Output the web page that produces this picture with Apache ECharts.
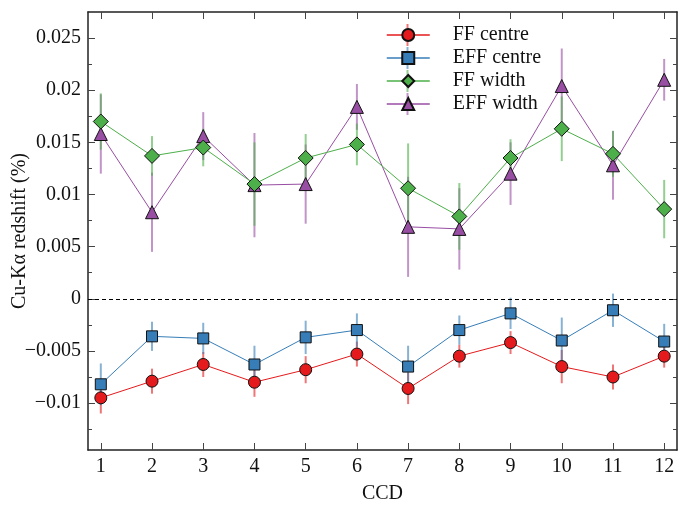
<!DOCTYPE html>
<html><head><meta charset="utf-8">
<script src="https://cdn.jsdelivr.net/npm/echarts@6/dist/echarts.min.js"></script>
<style>html,body{margin:0;padding:0;background:#fff}#c{width:680px;height:506px}</style>
</head><body><div id="c"></div>
<script>
// ---- data ----
const ccd = [1,2,3,4,5,6,7,8,9,10,11,12];
const ffCentre     = [-0.0095,-0.0079,-0.0063,-0.0080,-0.0068,-0.0053,-0.0086,-0.0055,-0.0042,-0.0065,-0.0075,-0.0055];
const ffCentreErr  = [0.0015,0.0012,0.0012,0.0014,0.0013,0.0012,0.0015,0.0011,0.0011,0.0016,0.0012,0.0011];
const effCentre    = [-0.0082,-0.0036,-0.0038,-0.0063,-0.0037,-0.0030,-0.0065,-0.0030,-0.0014,-0.0040,-0.0011,-0.0041];
const effCentreErr = [0.0020,0.0014,0.0015,0.0018,0.0016,0.0016,0.0020,0.0014,0.0015,0.0022,0.0016,0.0017];
const ffWidth      = [0.0170,0.0137,0.0145,0.0110,0.0135,0.0148,0.0106,0.0079,0.0135,0.0163,0.0139,0.0086];
const ffWidthErr   = [0.0027,0.0019,0.0018,0.0040,0.0023,0.0020,0.0043,0.0032,0.0018,0.0031,0.0022,0.0028];
const effWidth     = [0.0158,0.0083,0.0156,0.0109,0.0110,0.0184,0.0069,0.0067,0.0120,0.0204,0.0128,0.0210];
const effWidthErr  = [0.0038,0.0038,0.0023,0.0050,0.0038,0.0022,0.0048,0.0039,0.0030,0.0036,0.0033,0.0020];
const xTicks = [1,2,3,4,5,6,7,8,9,10,11,12];
const yTicks = [-0.01,-0.005,0,0.005,0.01,0.015,0.02,0.025];
const yMinorTicks = [-0.0125,-0.0075,-0.0025,0.0025,0.0075,0.0125,0.0175,0.0225];
const seriesNames = ['FF centre','EFF centre','FF width','EFF width'];

// ---- style ----
const FONT = 'Liberation Serif';
const colors = ['#e41a1c','#377eb8','#4daf4a','#984ea3'];
const symbols = ['circle','rect','diamond','triangle'];
const symSizes = [12,11,15,13];
const AX = '#222';
const FS = 20;

const fmt = v => v === 0 ? '0' : (v < 0 ? '\u2212' : '') + Math.abs(v);

function xAxisDef(pos, labels){
  return {type:'value', min:0.75, max:12.25, position:pos,
    axisLine:{show:true, onZero:false, lineStyle:{color:AX, width:1.5}},
    axisTick:{show:true, inside:true, length:7, customValues:xTicks, lineStyle:{color:'#444'}},
    axisLabel:{show:labels, customValues:xTicks, fontFamily:FONT, fontSize:FS, color:'#111', margin:7},
    splitLine:{show:false},
    name: labels ? 'CCD' : '', nameLocation:'middle', nameGap:34, nameMoveOverlap:false,
    nameTextStyle:{fontFamily:FONT, fontSize:FS, color:'#111'}};
}
function yAxisDef(pos, ticks, len, labels, line){
  return {type:'value', min:-0.0145, max:0.0275, position:pos,
    axisLine:{show:line, onZero:false, lineStyle:{color:AX, width:1.5}},
    axisTick:{show:true, inside:true, length:len, customValues:ticks, lineStyle:{color:'#444'}},
    axisLabel:{show:labels, customValues:ticks, formatter:fmt, fontFamily:FONT, fontSize:FS, color:'#111', margin:7},
    splitLine:{show:false},
    name: labels ? 'Cu-K\u03b1 redshift (%)' : '', nameLocation:'middle', nameGap:58, nameMoveOverlap:false,
    nameTextStyle:{fontFamily:FONT, fontSize:FS, color:'#111'}};
}

const vals = [ffCentre, effCentre, ffWidth, effWidth];
const errs = [ffCentreErr, effCentreErr, ffWidthErr, effWidthErr];

function errSeries(i){
  return {type:'custom', name:seriesNames[i]+' err', silent:true, z:1,
    xAxisIndex:0, yAxisIndex:0,
    data: ccd.map((c,k)=>[c, vals[i][k]-errs[i][k], vals[i][k]+errs[i][k]]),
    encode:{x:0, y:[1,2]},
    renderItem:(params, api)=>{
      const p1 = api.coord([api.value(0), api.value(1)]);
      const p2 = api.coord([api.value(0), api.value(2)]);
      return {type:'line', shape:{x1:p1[0], y1:p1[1], x2:p2[0], y2:p2[1]},
        style:{stroke:colors[i], lineWidth:2, opacity:0.6}};
    }};
}
function lineSeries(i){
  const s = {type:'line', name:seriesNames[i], z:2,
    xAxisIndex:0, yAxisIndex:0,
    data: ccd.map((c,k)=>[c, vals[i][k]]),
    symbol:symbols[i], symbolSize:symSizes[i], showAllSymbol:true,
    lineStyle:{color:colors[i], width:1},
    itemStyle:{color:colors[i], borderColor:'#111', borderWidth:1, opacity:1},
    emphasis:{disabled:true}, animation:false};
  if (i === 0) {
    s.markLine = {silent:true, symbol:'none', label:{show:false}, animation:false,
      lineStyle:{type:[4,3], color:'#000', width:1}, data:[{yAxis:0}]};
  }
  return s;
}

// legend layout
const LG = {left:386, top:25, itemW:43, itemH:15, rowH:20, gap:3};
const legendBars = seriesNames.map((n,i)=>{
  const cx = LG.left + LG.itemW/2;
  const cy = LG.top + LG.rowH/2 + i*(LG.rowH+LG.gap);
  return {type:'line', z:0, shape:{x1:cx, y1:cy-11, x2:cx, y2:cy+11},
    style:{stroke:colors[i], lineWidth:2, opacity:0.6}};
});

const chart = echarts.init(document.getElementById('c'), null, {renderer:'canvas'});
chart.setOption({
  animation:false,
  backgroundColor:'#fff',
  grid:{left:88, right:3, top:12, bottom:56, containLabel:false, outerBoundsMode:'none'},
  xAxis:[xAxisDef('bottom', true), xAxisDef('top', false)],
  yAxis:[yAxisDef('left', yTicks, 7, true, true), yAxisDef('left', yMinorTicks, 4, false, false),
         yAxisDef('right', yTicks, 7, false, true), yAxisDef('right', yMinorTicks, 4, false, false)],
  legend:{show:true, orient:'vertical', left:LG.left, top:LG.top, padding:0,
    itemWidth:LG.itemW, itemHeight:LG.itemH, itemGap:LG.gap, data:seriesNames, selectedMode:false,
    textStyle:{fontFamily:FONT, fontSize:FS, color:'#111', lineHeight:LG.rowH, padding:[0,0,0,18]},
    lineStyle:{width:1.5}},
  graphic:legendBars,
  series:[errSeries(0), errSeries(1), errSeries(3), errSeries(2),
          lineSeries(0), lineSeries(1), lineSeries(3), lineSeries(2)]
});
</script></body></html>
